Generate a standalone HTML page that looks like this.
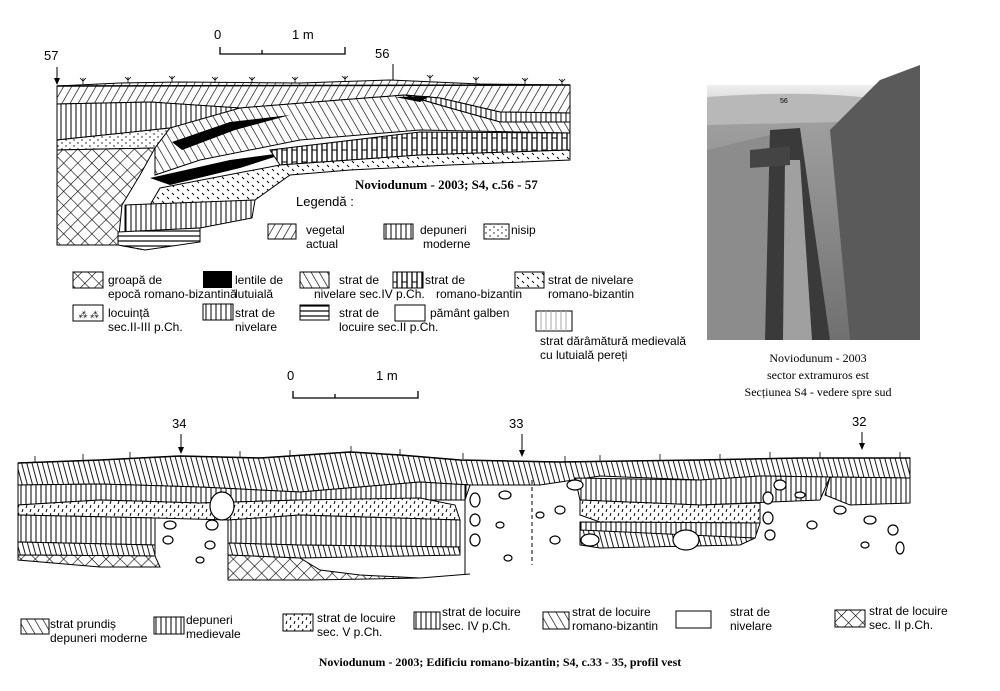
<!DOCTYPE html>
<html><head><meta charset="utf-8"><style>
body{margin:0;background:#fff;}
svg{display:block;font-family:"Liberation Sans",sans-serif;}
.s{font-family:"Liberation Serif",serif;}
</style></head><body>
<svg width="1000" height="691" viewBox="0 0 1000 691" xmlns="http://www.w3.org/2000/svg">
<defs>
<pattern id="dg" width="7" height="7" patternUnits="userSpaceOnUse" patternTransform="rotate(30)"><rect width="7" height="7" fill="#fff"/><line x1="0" y1="0" x2="0" y2="7" stroke="#000" stroke-width="1.3"/></pattern>
<pattern id="db" width="7" height="7" patternUnits="userSpaceOnUse" patternTransform="rotate(-30)"><rect width="7" height="7" fill="#fff"/><line x1="0" y1="0" x2="0" y2="7" stroke="#000" stroke-width="1.3"/></pattern>
<pattern id="vt" width="5" height="6" patternUnits="userSpaceOnUse"><rect width="5" height="6" fill="#fff"/><line x1="1" y1="0" x2="1" y2="6" stroke="#000" stroke-width="1"/></pattern>
<pattern id="vb" width="5" height="6" patternUnits="userSpaceOnUse" patternTransform="rotate(-15)"><rect width="5" height="6" fill="#fff"/><line x1="1" y1="0" x2="1" y2="6" stroke="#000" stroke-width="0.9"/></pattern>
<pattern id="hh" width="10" height="12" patternUnits="userSpaceOnUse"><rect width="10" height="12" fill="#fff"/><line x1="2" y1="0" x2="2" y2="12" stroke="#000" stroke-width="1.3"/><line x1="7" y1="0" x2="7" y2="12" stroke="#000" stroke-width="1.3"/><line x1="2" y1="6" x2="7" y2="6" stroke="#000"/></pattern>
<pattern id="ch" width="10" height="10" patternUnits="userSpaceOnUse" patternTransform="rotate(45)"><rect width="10" height="10" fill="#fff"/><line x1="0" y1="0" x2="0" y2="10" stroke="#000" stroke-width="1.2"/><line x1="0" y1="0" x2="10" y2="0" stroke="#000" stroke-width="1.2"/></pattern>
<pattern id="dt" width="8" height="6" patternUnits="userSpaceOnUse"><rect width="8" height="6" fill="#fff"/><circle cx="2" cy="2" r="0.7"/><circle cx="6" cy="5" r="0.7"/></pattern>
<pattern id="ds" width="10" height="8" patternUnits="userSpaceOnUse"><rect width="10" height="8" fill="#fff"/><line x1="2" y1="1" x2="4" y2="3" stroke="#000"/><line x1="7" y1="5" x2="9" y2="7" stroke="#000"/></pattern>
<pattern id="dsf" width="8" height="8" patternUnits="userSpaceOnUse"><rect width="8" height="8" fill="#fff"/><line x1="3" y1="1" x2="2" y2="4" stroke="#000"/><line x1="7" y1="5" x2="6" y2="8" stroke="#000"/></pattern>
<pattern id="hz" width="6" height="5" patternUnits="userSpaceOnUse"><rect width="6" height="5" fill="#fff"/><line x1="0" y1="1" x2="6" y2="1" stroke="#000" stroke-width="1.2"/></pattern>
<linearGradient id="ph" x1="0" y1="0" x2="0" y2="1"><stop offset="0" stop-color="#eee"/><stop offset="0.06" stop-color="#ddd"/><stop offset="0.12" stop-color="#a0a0a0"/><stop offset="1" stop-color="#707070"/></linearGradient>
</defs>

<text x="214" y="39" font-size="13">0</text><text x="292" y="39" font-size="13">1 m</text>
<path d="M220 47 V54 H345 V47 M262 50 V54" fill="none" stroke="#000" stroke-width="1.3"/>
<text x="44" y="60" font-size="13">57</text><text x="375" y="58" font-size="13">56</text>
<path d="M57 67 V84 M393 64 V94" stroke="#000"/><path d="M54 78 L57 85 L60 78Z M390 89 L393 96 L396 89Z"/>

<!-- TOP profile -->
<path d="M57 86 L120 83 L180 82 L300 83 L390 80 L480 84 L570 85 L570 113 L500 112 L440 98 L405 95 L340 100 L240 108 L150 102 L57 104Z" fill="url(#dg)" stroke="#000"/>
<path d="M57 104 L150 102 L240 108 L210 118 L170 128 L57 140Z" fill="url(#vt)" stroke="#000"/>
<path d="M405 95 L440 98 L500 112 L570 113 L570 122 L500 122 L450 108Z" fill="url(#vt)" stroke="#000"/>
<path d="M57 140 L170 128 L155 148 L57 150Z" fill="url(#dt)" stroke="#000"/>
<path d="M57 150 L155 148 L140 175 L122 205 L118 245 L57 245Z" fill="url(#ch)" stroke="#000"/>
<path d="M170 128 L240 108 L340 100 L405 95 L450 108 L500 122 L570 122 L570 133 L420 130 L300 140 L200 160 L155 175 L155 148Z" fill="url(#db)" stroke="#000"/>
<path d="M172 142 L230 122 L290 115 L235 130 L182 150Z" fill="#000"/>
<path d="M395 97 L430 96 L420 102Z" fill="#000"/>
<path d="M150 178 L230 160 L290 152 L240 168 L170 185Z" fill="#000"/>
<path d="M270 150 L420 132 L570 133 L570 150 L420 155 L280 165Z" fill="url(#hh)" stroke="#000"/>
<path d="M160 188 L280 165 L420 155 L570 150 L570 160 L450 165 L350 170 L290 175 L255 200 L200 203 L150 205Z" fill="url(#ds)" stroke="#000"/>
<path d="M125 205 L255 200 L252 218 L200 228 L125 232Z" fill="url(#vt)" stroke="#000"/>
<path d="M118 232 L200 228 L200 242 L145 250 L118 245Z" fill="url(#hz)" stroke="#000"/>
<path d="M57 245 L118 245 L145 250" fill="none" stroke="#000" stroke-dasharray="5 3"/>
<path d="M57 86 L570 85" fill="none" stroke="#000" stroke-width="1.5"/>
<g stroke="#000" fill="none" stroke-width="0.8">
<path d="M83 84 l0 -6 M80 78 l3 3 3 -3 M128 83 l0 -6 M125 77 l3 3 3 -3 M172 82 l0 -6 M169 76 l3 3 3 -3 M215 83 l0 -6 M212 77 l3 3 3 -3 M252 83 l0 -6 M249 77 l3 3 3 -3 M295 83 l0 -6 M292 77 l3 3 3 -3 M345 82 l0 -6 M342 76 l3 3 3 -3 M430 81 l0 -6 M427 75 l3 3 3 -3 M476 83 l0 -6 M473 77 l3 3 3 -3 M525 84 l0 -6 M522 78 l3 3 3 -3 M562 85 l0 -6 M559 79 l3 3 3 -3"/>
</g>
<text x="355" y="189" font-size="13" font-weight="bold" class="s">Noviodunum - 2003; S4, c.56 - 57</text>
<text x="296" y="206" font-size="13">Legendă :</text>
<rect x="268" y="224" width="28" height="15" fill="url(#dg)" stroke="#000"/><text x="306" y="234" font-size="12">vegetal</text><text x="306" y="248" font-size="12">actual</text>
<rect x="384" y="224" width="29" height="15" fill="url(#vt)" stroke="#000"/><text x="420" y="234" font-size="12">depuneri</text><text x="423" y="248" font-size="12">moderne</text>
<rect x="484" y="224" width="25" height="15" fill="url(#dt)" stroke="#000"/><text x="511" y="234" font-size="12">nisip</text>

<g font-size="12">
<rect x="73" y="272" width="30" height="16" fill="url(#ch)" stroke="#000"/><text x="108" y="284">groapă de</text><text x="108" y="298">epocă romano-bizantină</text>
<rect x="203" y="271" width="29" height="17" fill="#000"/><text x="235" y="284">lentile de</text><text x="235" y="298">lutuială</text>
<rect x="300" y="272" width="29" height="16" fill="url(#db)" stroke="#000"/><text x="339" y="284">strat de</text><text x="314" y="298">nivelare sec.IV p.Ch.</text>
<rect x="393" y="272" width="30" height="16" fill="url(#hh)" stroke="#000"/><text x="425" y="284">strat de</text><text x="436" y="298">romano-bizantin</text>
<rect x="515" y="272" width="29" height="16" fill="url(#ds)" stroke="#000"/><text x="548" y="284">strat de nivelare</text><text x="548" y="298">romano-bizantin</text>
<rect x="73" y="305" width="30" height="16" fill="#fff" stroke="#000"/><text x="78" y="318" font-size="9" font-style="italic">⁂ ⁂</text><text x="108" y="317">locuință</text><text x="108" y="331">sec.II-III p.Ch.</text>
<rect x="203" y="304" width="30" height="16" fill="url(#vt)" stroke="#000"/><text x="235" y="317">strat de</text><text x="235" y="331">nivelare</text>
<rect x="300" y="305" width="29" height="15" fill="url(#hz)" stroke="#000"/><text x="339" y="317">strat de</text><text x="339" y="331">locuire sec.II p.Ch.</text>
<rect x="395" y="305" width="30" height="16" fill="#fff" stroke="#000"/><text x="430" y="317">pământ galben</text>
<rect x="536" y="311" width="36" height="20" fill="#fff" stroke="#000"/><g stroke="#aaa"><path d="M541 311V331M546 311V331M551 311V331M556 311V331M561 311V331M566 311V331"/></g>
<text x="540" y="345">strat dărâmătură medievală</text><text x="540" y="359">cu lutuială pereți</text>
</g>

<!-- photo -->
<rect x="707" y="85" width="213" height="255" fill="url(#ph)"/>
<path d="M707 97 Q800 90 870 98 L920 105 L920 120 L707 125Z" fill="#b8b8b8"/>
<path d="M880 80 L920 65 L920 340 L850 340 L830 130 Z" fill="#5a5a5a"/>
<path d="M707 150 L770 135 L775 340 L707 340Z" fill="#8c8c8c"/>
<path d="M770 130 L800 128 L830 340 L765 340Z" fill="#3a3a3a"/>
<path d="M785 160 L800 160 L812 340 L783 340Z" fill="#a0a0a0"/>
<path d="M750 150 L790 146 L790 165 L750 168Z" fill="#444"/>
<text x="780" y="103" font-size="7" fill="#000">56</text>
<g class="s" font-size="12" text-anchor="middle"><text x="818" y="362">Noviodunum - 2003</text><text x="818" y="379">sector extramuros est</text><text x="818" y="396">Secțiunea S4 - vedere spre sud</text></g>

<text x="287" y="380" font-size="13">0</text><text x="376" y="380" font-size="13">1 m</text>
<path d="M293 391 V398 H418 V391 M335 394 V398" fill="none" stroke="#000" stroke-width="1.3"/>
<text x="172" y="428" font-size="13">34</text><text x="509" y="428" font-size="13">33</text><text x="852" y="426" font-size="13">32</text>
<path d="M181 434 V452 M522 434 V455 M862 432 V448" stroke="#000"/><path d="M178 447 L181 454 L184 447Z M519 450 L522 457 L525 450Z M859 443 L862 450 L865 443Z"/>

<!-- bottom profile -->
<path d="M18 463 L100 460 L180 456 L260 458 L350 452 L400 455 L460 460 L560 462 L700 460 L800 458 L910 458 L910 478 L830 477 L760 476 L700 480 L600 476 L540 485 L470 485 L420 482 L300 492 L200 487 L100 484 L18 485Z" fill="url(#vb)" stroke="#000"/>
<path d="M18 485 L100 484 L200 487 L300 492 L420 482 L470 485 L465 500 L300 500 L200 503 L100 500 L18 505Z" fill="url(#vt)" stroke="#000"/>
<path d="M575 478 L700 480 L760 476 L830 477 L820 500 L700 505 L580 500Z" fill="url(#vt)" stroke="#000"/>
<path d="M830 477 L910 478 L910 503 L850 505 L825 495Z" fill="url(#vt)" stroke="#000"/>
<path d="M18 505 L100 500 L200 503 L300 500 L420 498 L455 505 L460 520 L300 515 L230 520 L155 518 L18 515Z" fill="url(#dsf)" stroke="#000"/>
<path d="M580 500 L700 505 L760 503 L760 523 L600 522 L580 515Z" fill="url(#dsf)" stroke="#000"/>
<path d="M18 515 L155 518 L155 545 L18 542Z" fill="url(#vt)" stroke="#000"/>
<path d="M228 520 L300 515 L460 520 L460 547 L300 545 L228 543Z" fill="url(#vt)" stroke="#000"/>
<path d="M580 522 L760 523 L755 538 L600 536 L580 530Z" fill="url(#vt)" stroke="#000"/>
<path d="M228 543 L300 545 L460 547 L460 555 L300 558 L228 555Z" fill="url(#vb)" stroke="#000"/>
<path d="M580 530 L755 538 L740 545 L600 548 L580 545Z" fill="url(#vb)" stroke="#000"/>
<path d="M18 542 L155 545 L155 556 L18 555Z" fill="url(#vb)" stroke="#000"/>
<path d="M18 555 L155 556 L160 567 L100 567 L18 560Z" fill="url(#ch)" stroke="#000"/>
<path d="M228 555 L300 558 L320 570 L360 575 L420 578 L310 580 L228 580Z" fill="url(#ch)" stroke="#000"/>
<path d="M420 578 L470 574 M465 485 V574" stroke="#000" fill="none"/>
<path d="M532 480 V565" stroke="#000" stroke-dasharray="4 3"/>
<g fill="#fff" stroke="#000" stroke-width="1.2">
<ellipse cx="222" cy="506" rx="12" ry="14"/><ellipse cx="170" cy="525" rx="6" ry="4"/><ellipse cx="168" cy="540" rx="5" ry="4"/><ellipse cx="212" cy="525" rx="6" ry="5"/><ellipse cx="210" cy="545" rx="5" ry="4"/><ellipse cx="200" cy="560" rx="4" ry="3"/>
<ellipse cx="475" cy="500" rx="5" ry="7"/><ellipse cx="475" cy="520" rx="5" ry="6"/><ellipse cx="475" cy="540" rx="5" ry="6"/><ellipse cx="505" cy="495" rx="6" ry="4"/><ellipse cx="500" cy="525" rx="4" ry="3"/><ellipse cx="540" cy="515" rx="4" ry="3"/><ellipse cx="560" cy="510" rx="5" ry="4"/><ellipse cx="555" cy="540" rx="5" ry="4"/><ellipse cx="508" cy="558" rx="4" ry="3"/>
<ellipse cx="575" cy="485" rx="8" ry="5"/><ellipse cx="590" cy="540" rx="9" ry="6"/><ellipse cx="686" cy="540" rx="13" ry="10"/>
<ellipse cx="768" cy="498" rx="5" ry="6"/><ellipse cx="768" cy="518" rx="5" ry="6"/><ellipse cx="770" cy="535" rx="5" ry="5"/><ellipse cx="780" cy="485" rx="6" ry="5"/><ellipse cx="800" cy="495" rx="5" ry="3"/><ellipse cx="812" cy="525" rx="5" ry="4"/><ellipse cx="840" cy="510" rx="6" ry="4"/><ellipse cx="870" cy="520" rx="6" ry="4"/><ellipse cx="893" cy="530" rx="5" ry="5"/><ellipse cx="900" cy="548" rx="4" ry="6"/><ellipse cx="865" cy="545" rx="4" ry="3"/>
</g>
<path d="M18 463 L100 460 L180 456 L260 458 L350 452 L400 455 L460 460 L560 462 L700 460 L800 458 L910 458" fill="none" stroke="#000" stroke-width="1.5"/>
<g stroke="#000" fill="none" stroke-width="0.8"><path d="M35 462v-6M83 460v-6M130 458v-6M240 457v-6M290 456v-6M351 452v-6M400 455v-6M463 459v-6M565 462v-6M600 461v-6M660 460v-6M720 460v-6M770 458v-6M820 458v-6M900 458v-6"/></g>

<g font-size="12">
<rect x="21" y="619" width="28" height="15" fill="url(#db)" stroke="#000"/><text x="50" y="628">strat prundiș</text><text x="50" y="642">depuneri moderne</text>
<rect x="154" y="617" width="30" height="17" fill="url(#vt)" stroke="#000"/><text x="186" y="624">depuneri</text><text x="186" y="638">medievale</text>
<rect x="283" y="614" width="30" height="17" fill="url(#dsf)" stroke="#000"/><text x="317" y="622">strat de locuire</text><text x="317" y="636">sec. V p.Ch.</text>
<rect x="414" y="612" width="26" height="17" fill="url(#vt)" stroke="#000"/><text x="442" y="616">strat de locuire</text><text x="442" y="630">sec. IV p.Ch.</text>
<rect x="543" y="612" width="26" height="17" fill="url(#db)" stroke="#000"/><text x="572" y="616">strat de locuire</text><text x="572" y="630">romano-bizantin</text>
<rect x="676" y="611" width="35" height="17" fill="#fff" stroke="#000"/><text x="730" y="616">strat de</text><text x="730" y="630">nivelare</text>
<rect x="835" y="610" width="30" height="17" fill="url(#ch)" stroke="#000"/><text x="869" y="615">strat de locuire</text><text x="869" y="629">sec. II p.Ch.</text>
</g>
<text x="500" y="666" font-size="12" font-weight="bold" class="s" text-anchor="middle">Noviodunum - 2003; Edificiu romano-bizantin; S4, c.33 - 35, profil vest</text>
</svg>
</body></html>
